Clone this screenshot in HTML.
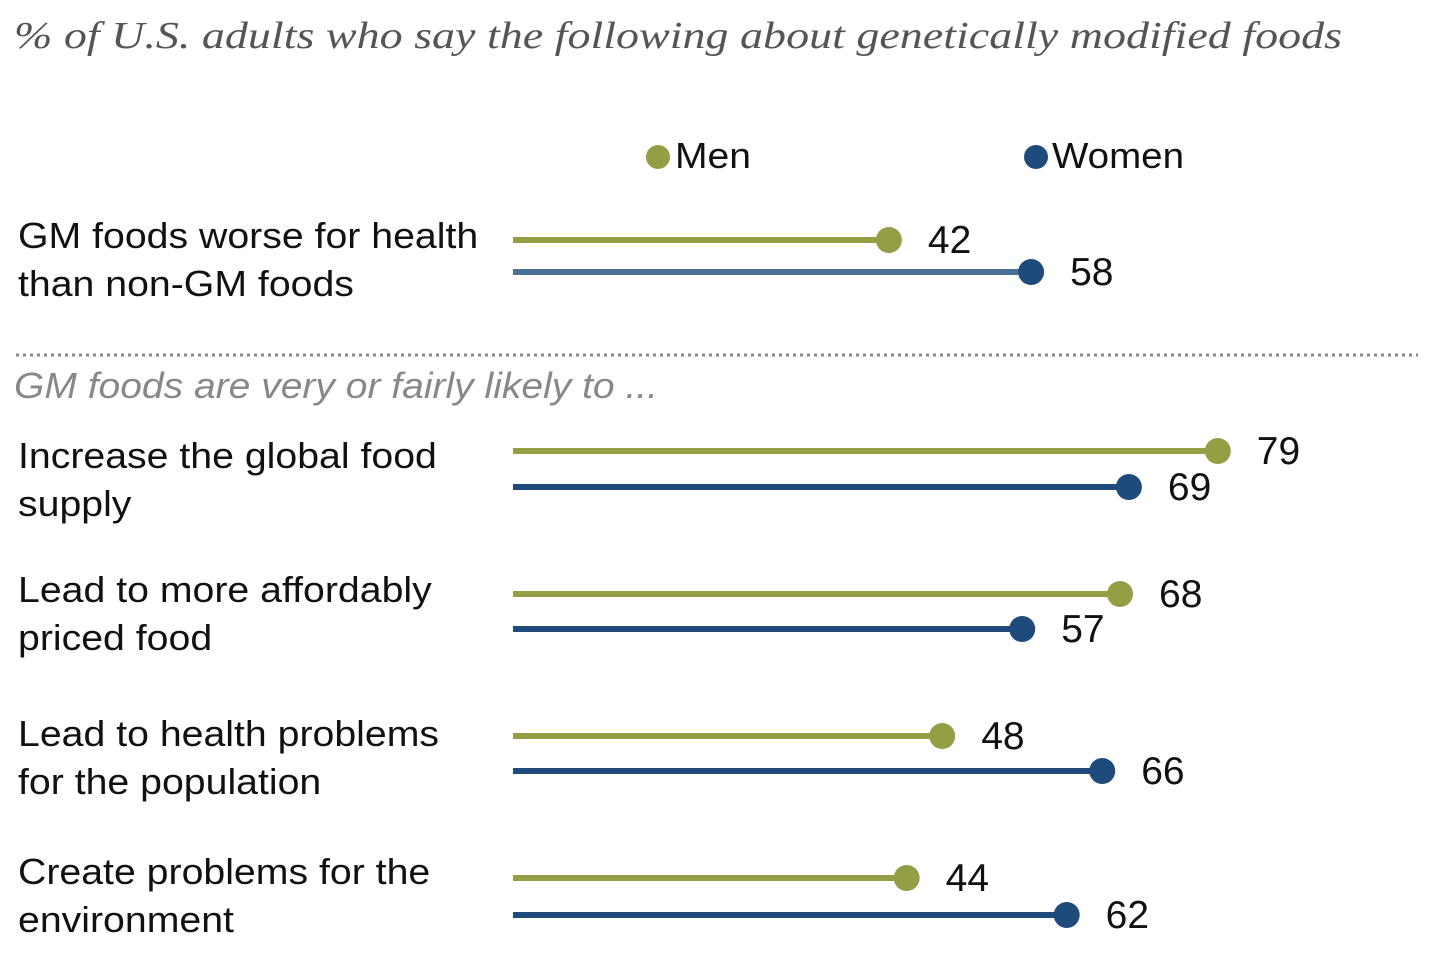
<!DOCTYPE html>
<html><head><meta charset="utf-8"><style>
html,body{margin:0;padding:0;background:#fff;width:1456px;height:953px;overflow:hidden}
svg text{font-family:"Liberation Sans",sans-serif}
</style></head><body>
<svg width="1456" height="953" viewBox="0 0 1456 953">
<text x="14" y="48" font-style="italic" font-size="38" fill="#555" textLength="1328" lengthAdjust="spacingAndGlyphs" style="font-family:'Liberation Serif',serif">% of U.S. adults who say the following about genetically modified foods</text>
<g>
<circle cx="658" cy="157" r="12" fill="#949e45"/>
<text x="675" y="168" font-size="36" fill="#111" textLength="76" lengthAdjust="spacingAndGlyphs">Men</text>
<circle cx="1036" cy="157" r="12" fill="#1f4a7c"/>
<text x="1052" y="168" font-size="36" fill="#111" textLength="132" lengthAdjust="spacingAndGlyphs">Women</text>
</g>
<line x1="16" y1="355" x2="1418" y2="355" stroke="#888" stroke-width="3" stroke-dasharray="3,4"/>
<text x="14" y="398" font-size="36" font-style="italic" fill="#888" textLength="644" lengthAdjust="spacingAndGlyphs">GM foods are very or fairly likely to ...</text>
<g id="rows"></g>
</svg>
<script>
const categories=[["GM foods worse for health","than non-GM foods"],["Increase the global food","supply"],["Lead to more affordably","priced food"],["Lead to health problems","for the population"],["Create problems for the","environment"]];
const men=[42,79,68,48,44];
const women=[58,69,57,66,62];
const menY=[240,451,594,736,878];
const womenY=[272,487,629,771,915];
const labelY=[248,468,602,746,884];
const x0=515.5, unit=8.89;
const xs=v=>x0+v*unit;
const NS="http://www.w3.org/2000/svg";
const g=document.getElementById('rows');
function mk(t,a){const e=document.createElementNS(NS,t);for(const k in a)e.setAttribute(k,a[k]);g.appendChild(e);return e;}
categories.forEach((c,i)=>{
 c.forEach((line,j)=>{const t=mk('text',{x:18,y:labelY[i]+j*48,'font-size':36,fill:'#111'});t.textContent=line;
 
 
 const w=t.getComputedTextLength();t.setAttribute('textLength',w*1.09);t.setAttribute('lengthAdjust','spacingAndGlyphs');});
 [[men,menY,'#949e45','#949e45','men'],[women,womenY,i===0?'#4a7191':'#1f4a7c','#1f4a7c','women']].forEach(([d,Y,lc,dc,n])=>{
  const l=mk('line',{x1:513,x2:xs(d[i]),y1:Y[i],y2:Y[i],stroke:lc,'stroke-width':6});
  
  
  const ci=mk('circle',{cx:xs(d[i]),cy:Y[i],r:13,fill:dc});
  
  
  const t=mk('text',{x:xs(d[i])+39,y:Y[i]+13,'font-size':39,fill:'#111'});t.textContent=d[i];
  
  
 });
});
</script>
</body></html>
